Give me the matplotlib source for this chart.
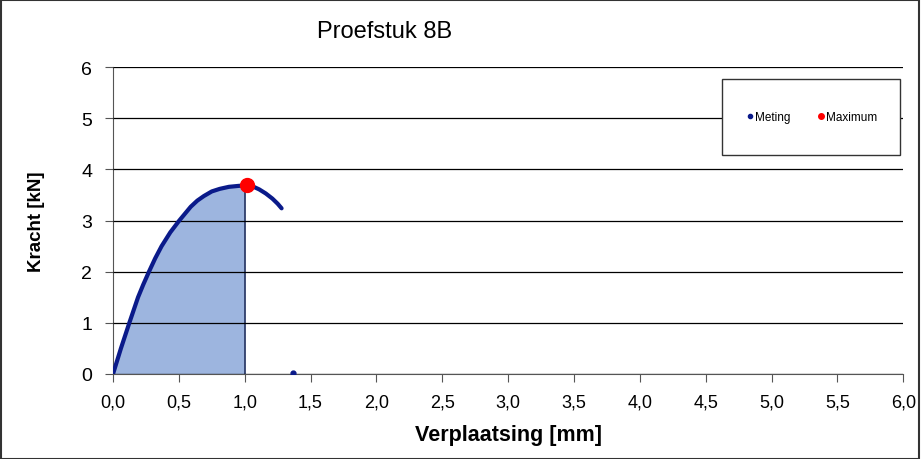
import matplotlib
matplotlib.use("Agg")
import matplotlib.pyplot as plt
from matplotlib.patches import Rectangle
from matplotlib.ticker import FuncFormatter
import numpy as np

plt.rcParams['font.family'] = ['Liberation Sans', 'DejaVu Sans']

# Measured force-displacement points
verplaatsing = [0.0, 0.06, 0.124, 0.19, 0.23, 0.273, 0.32, 0.369, 0.435, 0.503,
                0.59, 0.64, 0.69, 0.75, 0.81, 0.88, 0.96, 1.00, 1.015, 1.06,
                1.11, 1.16, 1.21, 1.25, 1.28]
kracht = [0.0, 0.50, 1.00, 1.50, 1.75, 2.00, 2.26, 2.50, 2.77, 3.00,
          3.27, 3.39, 3.48, 3.57, 3.62, 3.66, 3.68, 3.68, 3.69, 3.67,
          3.61, 3.53, 3.43, 3.33, 3.24]
losse_x = [1.37]
losse_y = [0.02]

max_x = 1.015
max_y = 3.69
grens_x = 1.0  # end of shaded area

navy = '#0a1a8a'

fig = plt.figure(figsize=(9.21, 4.60), dpi=100)
fig.patches.append(Rectangle((0.001, 0.001), 0.997, 0.996, transform=fig.transFigure,
                             fill=False, edgecolor='#333333', linewidth=1.5))
ax = fig.add_axes([0.1227, 0.1848, 0.858, 0.667])

vx = np.array(verplaatsing)
ky = np.array(kracht)
mask = vx <= grens_x
ax.fill_between(vx[mask], 0, ky[mask], facecolor='#9db5df', edgecolor='none', zorder=1)
ax.plot([grens_x, grens_x], [0, ky[mask][-1]], color='#1f2f5f', linewidth=1.2, zorder=2)

ax.plot(verplaatsing, kracht, color=navy, linewidth=3.0, solid_capstyle='round',
        solid_joinstyle='round', zorder=3)
ax.plot(losse_x, losse_y, linestyle='none', marker='o', color=navy, markersize=3.5, zorder=3)
ax.plot([max_x], [max_y], linestyle='none', marker='o', color='#ff0000', markersize=10, zorder=4)

ax.set_xlim(0, 6)
ax.set_ylim(0, 6)
ax.set_xticks(np.arange(0, 6.01, 0.5))
ax.set_yticks(range(0, 7))
ax.xaxis.set_major_formatter(FuncFormatter(lambda v, p: f"{v:.1f}".replace('.', ',')))
ax.grid(axis='y', color='black', linewidth=0.9)
ax.set_axisbelow(False)
for s in ['top', 'right']:
    ax.spines[s].set_visible(False)
ax.spines['left'].set_color('#555555')
ax.spines['bottom'].set_color('#555555')
ax.tick_params(direction='out', length=6, color='#555555')
ax.tick_params(axis='x', labelsize=13, pad=8)
ax.tick_params(axis='y', labelsize=14, pad=9)

ax.set_xlabel('Verplaatsing [mm]', fontsize=15.5, fontweight='bold', labelpad=10)
ax.set_ylabel('Kracht [kN]', fontsize=13.5, fontweight='bold', labelpad=26)
fig.text(0.418, 0.93, 'Proefstuk 8B', fontsize=17, ha='center', va='center')

# Legend with a fixed-size frame
ax.add_patch(Rectangle((0.771, 0.713), 0.225, 0.248, transform=ax.transAxes,
                       fill=True, facecolor='white', edgecolor='#333333',
                       linewidth=1.0, clip_on=False, zorder=5))
h1 = plt.Line2D([], [], linestyle='none', marker='o', color=navy, markersize=3)
h2 = plt.Line2D([], [], linestyle='none', marker='o', color='#ff0000', markersize=4)
leg = ax.legend([h1, h2], ['Meting', 'Maximum'], ncol=2, loc='center',
                bbox_to_anchor=(0.8835, 0.837), fontsize=8.5, frameon=False,
                handletextpad=0.05, handlelength=0.8, columnspacing=2.2)
leg.set_zorder(6)

fig.savefig('out.png', dpi=100)
